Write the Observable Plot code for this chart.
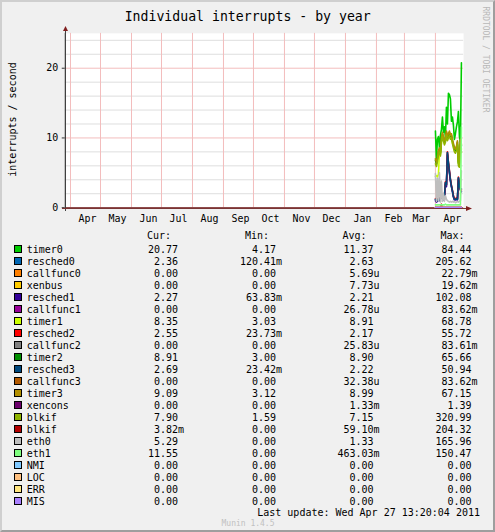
<!DOCTYPE html>
<html><head><meta charset="utf-8">
<script src="https://cdn.jsdelivr.net/npm/d3@7"></script>
<script src="https://cdn.jsdelivr.net/npm/@observablehq/plot@0.6"></script>
<style>
html,body{margin:0;padding:0;background:#fff}
#wrap{position:relative;width:495px;height:532px;background:#f0f0f0;box-sizing:border-box;border-style:solid;border-width:2px;border-color:#cfcfcf #9e9e9e #9e9e9e #cfcfcf;overflow:hidden;font-family:"DejaVu Sans Mono",monospace}
#chart{position:absolute;left:-2px;top:-2px}
#overlay{position:absolute;left:-2px;top:-2px;pointer-events:none}
</style></head><body><div id="wrap"><div id="chart"></div></div>
<script>
// ---- data ----
const names = ["timer0","resched0","callfunc0","xenbus","resched1","callfunc1","timer1","resched2","callfunc2","timer2","resched3","callfunc3","timer3","xencons","blkif","blkif","eth0","eth1","NMI","LOC","ERR","MIS"];
const colors = ["#00cc00","#0066b3","#ff8000","#ffcc00","#330099","#990099","#ccff00","#ff0000","#808080","#008f00","#00487d","#b35a00","#b38f00","#6b006b","#8fb300","#b30000","#bebebe","#80ff80","#80c9ff","#ffc080","#ffe680","#aa80ff"];
const curVals = ["20.77","2.36","0.00","0.00","2.27","0.00","8.35","2.55","0.00","8.91","2.69","0.00","9.09","0.00","7.90","3.82m","5.29","11.55","0.00","0.00","0.00","0.00"];
const minVals = ["4.17","120.41m","0.00","0.00","63.83m","0.00","3.03","23.73m","0.00","3.00","23.42m","0.00","3.12","0.00","1.59","0.00","0.00","0.00","0.00","0.00","0.00","0.00"];
const avgVals = ["11.37","2.63","5.69u","7.73u","2.21","26.78u","8.91","2.17","25.83u","8.90","2.22","32.38u","8.99","1.33m","7.15","59.10m","1.33","463.03m","0.00","0.00","0.00","0.00"];
const maxVals = ["84.44","205.62","22.79m","19.62m","102.08","83.62m","68.78","55.72","83.61m","65.66","50.94","83.62m","67.15","1.39","320.99","204.32","165.96","150.47","0.00","0.00","0.00","0.00"];

const days = ["2011-04-01","2011-04-02","2011-04-03","2011-04-04","2011-04-05","2011-04-06","2011-04-07","2011-04-08","2011-04-09","2011-04-10","2011-04-11","2011-04-12","2011-04-13","2011-04-14","2011-04-15","2011-04-16","2011-04-17","2011-04-18","2011-04-19","2011-04-20","2011-04-21","2011-04-22","2011-04-23","2011-04-24","2011-04-25","2011-04-26","2011-04-27"];

const timer0   = [11.0,6.8,9.8,10.2,8.6,10.4,11.2,13.0,10.8,11.6,10.0,14.4,12.0,16.4,16.2,15.6,12.4,13.0,11.8,9.8,10.6,11.6,12.3,13.8,10.2,9.4,20.77];
const resched0 = [1.2,0.9,1.0,1.3,1.1,1.4,1.8,1.5,1.2,1.6,3.6,3.2,7.9,6.4,5.2,4.0,3.1,2.4,1.6,1.2,1.2,1.3,1.2,4.3,3.0,2.6,2.36];
const callfunc0= [0,0,0,0,0,0,0,0,0,0,0,0,0,0,0,0,0,0,0,0,0,0,0,0,0,0,0];
const xenbus   = [0,0,0,0,0,0,0,0,0,0,0,0,0,0,0,0,0,0,0,0,0,0,0,0,0,0,0];
const resched1 = [1.0,0.8,0.9,1.2,1.0,1.3,1.6,1.4,1.1,1.5,3.4,3.0,7.6,6.1,5.0,3.8,3.0,2.3,1.5,1.1,1.1,1.2,1.1,4.1,2.9,2.5,2.27];
const callfunc1= [0,0,0,0,0,0,0,0,0,0,0,0,0,0,0,0,0,0,0,0,0,0,0,0,0,0,0];
const timer1   = [4.5,4.6,4.4,4.8,7.9,7.6,9.4,10.2,9.7,9.2,9.6,10.5,9.8,10.1,10.5,9.9,10.1,9.3,8.8,8.2,8.0,8.4,9.1,6.3,6.0,9.3,8.35];
const resched2 = [1.3,1.0,1.1,1.4,1.2,1.5,1.9,1.6,1.3,1.7,3.7,3.3,8.0,6.5,5.3,4.1,3.2,2.5,1.7,1.3,1.3,1.4,1.3,4.4,3.1,2.7,2.55];
const callfunc2= [0,0,0,0,0,0,0,0,0,0,0,0,0,0,0,0,0,0,0,0,0,0,0,0,0,0,0];
const timer2   = [6.8,6.3,7.0,8.0,8.4,7.8,9.8,10.6,10.0,9.4,9.8,10.8,10.0,10.4,10.8,10.2,10.4,9.6,9.0,8.4,8.2,8.6,9.4,6.4,6.2,9.6,8.91];
const resched3 = [1.2,1.0,1.0,1.3,1.1,1.4,1.8,1.5,1.2,1.6,3.6,3.3,7.9,6.4,5.1,4.0,3.1,2.4,1.6,1.2,1.2,1.3,1.2,4.3,3.0,2.7,2.69];
const callfunc3= [0,0,0,0,0,0,0,0,0,0,0,0,0,0,0,0,0,0,0,0,0,0,0,0,0,0,0];
const timer3   = [7.0,6.5,7.2,8.2,8.6,8.0,10.0,10.8,10.2,9.6,10.0,11.0,10.2,10.6,11.0,10.4,10.6,9.8,9.2,8.6,8.4,8.8,9.6,6.6,6.4,9.8,9.09];
const xencons  = [0,0,0,0,0,0,0,0,0,0,0,0,0,0,0,0,0,0,0,0,0,0,0,0,0,0,0];
const blkifA   = [6.3,5.9,6.6,7.6,8.0,7.4,9.4,10.2,9.6,9.0,9.4,10.4,9.6,10.0,10.4,9.8,10.0,9.2,8.6,8.0,7.8,8.2,9.0,6.0,5.8,9.2,7.90];
const blkifB   = [0,0,0,0,0,0,0.5,0,0,0,0,0,0,0,0,0,0,0,0,0,0,0,0,0,0,0,0];
const eth0     = [4.9,0.9,4.2,1.0,5.0,0.8,3.8,0.9,2.0,0.9,1.7,1.2,1.0,0.9,0.8,0.9,0.8,0.9,0.8,0.9,0.7,0.8,0.9,0.8,0.9,1.0,5.29];
const eth1     = [0.4,0.4,0.4,0.4,0.4,0.4,0.4,0.4,0.4,0.4,0.5,0.4,0.4,0.4,0.4,0.4,0.4,0.4,0.4,0.4,0.4,0.4,0.4,0.4,0.4,0.4,11.55];
const nmi      = [0,0,0,0,0,0,0,0,0,0,0,0,0,0,0,0,0,0,0,0,0,0,0,0,0,0,0];
const loc      = [0,0,0,0,0,0,0,0,0,0,0,0,0,0,0,0,0,0,0,0,0,0,0,0,0,0,0];
const err      = [0,0,0,0,0,0,0,0,0,0,0,0,0,0,0,0,0,0,0,0,0,0,0,0,0,0,0];
const mis      = [0,0,0,0,0,0,0,0,0,0,0,0,0,0,0,0,0,0,0,0,0,0,0,0,0,0,0];
const seriesValues = [timer0,resched0,callfunc0,xenbus,resched1,callfunc1,timer1,resched2,callfunc2,timer2,resched3,callfunc3,timer3,xencons,blkifA,blkifB,eth0,eth1,nmi,loc,err,mis];

const monthTicks = ["2010-04-01","2010-05-01","2010-06-01","2010-07-01","2010-08-01","2010-09-01","2010-10-01","2010-11-01","2010-12-01","2011-01-01","2011-02-01","2011-03-01","2011-04-01"];
const monthLabels = ["Apr","May","Jun","Jul","Aug","Sep","Oct","Nov","Dec","Jan","Feb","Mar","Apr"];
const yMajor = [0,10,20];
const yMinor = [2,4,6,8,12,14,16,18,22,24];
const xDomain = ["2010-03-26T17:17Z","2011-04-29T04:35Z"];
const yDomain = [0,25];

// ---- chart ----
const dt = s => new Date(s.length === 10 ? s + "T00:00Z" : s);
const mTicks = monthTicks.map(dt);
const labelOf = new Map(mTicks.map((d,i)=>[+d, monthLabels[i]]));
const lineMarks = seriesValues.map((vals, k) =>
  Plot.line(vals.map((v,i)=>({date: dt(days[i]), value: v})), {x:"date", y:"value", stroke: colors[k], strokeWidth: 1.6})
);

const plot = Plot.plot({
  width: 495, height: 232,
  marginLeft: 65, marginRight: 30, marginTop: 33, marginBottom: 24,
  x: {type: "utc", domain: xDomain.map(dt)},
  y: {domain: yDomain},
  style: {background: "transparent", fontFamily: "'DejaVu Sans Mono', monospace", fontSize: "10px", color: "#000", overflow: "visible"},
  marks: [
    Plot.frame({fill: "white", stroke: null}),
    Plot.ruleY(yMinor, {stroke: "#dedede"}),
    Plot.ruleY(yMajor, {stroke: "#f3bcbc"}),
    Plot.ruleX(mTicks, {stroke: "#f3bcbc"}),
    Plot.axisY(yMajor, {tickSize: 3, tickPadding: 4, label: null, stroke: "#333", fill: "#000"}),
    Plot.axisX(mTicks, {tickSize: 0, tickPadding: 7.5, label: null, dx: 17, tickFormat: d => labelOf.get(+d), fill: "#000"}),
    Plot.ruleX([dt(xDomain[0])], {stroke: "#404040"}),
    Plot.ruleY([0], {stroke: "#7a3434"}),
    ...lineMarks
  ]
});
document.getElementById("chart").appendChild(plot);

// ---- overlay text & legend ----
const sx = plot.scale("x"), sy = plot.scale("y");
const svg = d3.select("#wrap").append("svg").attr("id","overlay").attr("width",495).attr("height",532)
  .style("font-family","'DejaVu Sans Mono', monospace").style("font-size","10px");

// arrows
const ax = sx.apply(dt(xDomain[0])), ay0 = sy.apply(0), ayTop = sy.apply(yDomain[1]), axR = sx.apply(dt(xDomain[1]));
svg.append("line").attr("x1",ax+0.5).attr("x2",ax+0.5).attr("y1",ayTop-2).attr("y2",ay0+3).attr("stroke","#404040");
svg.append("line").attr("x1",ax-3).attr("x2",axR+2).attr("y1",ay0+0.5).attr("y2",ay0+0.5).attr("stroke","#7a3434");
svg.append("path").attr("d",`M${ax-2},${ayTop-2}L${ax+3},${ayTop-2}L${ax+0.5},${ayTop-7}Z`).attr("fill","#801f1f");
svg.append("path").attr("d",`M${axR+1},${ay0-2}L${axR+1},${ay0+3}L${axR+7},${ay0+0.5}Z`).attr("fill","#801f1f");

svg.append("text").attr("x",247.7).attr("y",21).attr("text-anchor","middle").style("font-size","13.2px").text("Individual interrupts - by year");
svg.append("text").attr("transform","translate(16,119.5) rotate(-90)").attr("text-anchor","middle").text("interrupts / second");
svg.append("text").attr("transform","translate(482.5,6.5) rotate(90)").attr("fill","#b8b8b8").style("font-size","8px").text("RRDTOOL / TOBI OETIKER");

const colEnds = [178, 276, 373.5, 471.5];
const headers = ["Cur:","Min:","Avg:","Max:"];
headers.forEach((h,j)=> svg.append("text").attr("x",colEnds[j]-7).attr("y",239).attr("text-anchor","end").text(h));
const cols = [curVals, minVals, avgVals, maxVals];
names.forEach((n,i)=>{
  const b = 252.5 + 12*i;
  svg.append("rect").attr("x",14.5).attr("y",b-7).attr("width",7).attr("height",7).attr("fill",colors[i]).attr("stroke","#000");
  svg.append("text").attr("x",26.7).attr("y",b).text(n);
  cols.forEach((c,j)=>{
    const s = c[i];
    const m = s.match(/^([0-9.]+)([a-zA-Z]?)$/);
    svg.append("text").attr("x",colEnds[j]).attr("y",b).attr("text-anchor","end").text(m[1]);
    if (m[2]) svg.append("text").attr("x",colEnds[j]).attr("y",b).text(m[2]);
  });
});
svg.append("text").attr("x",480).attr("y",515.5).attr("text-anchor","end").text("Last update: Wed Apr 27 13:20:04 2011");
svg.append("text").attr("x",248).attr("y",526).attr("text-anchor","middle").attr("fill","#c0c0c0").style("font-size","8px").text("Munin 1.4.5");
</script></body></html>
